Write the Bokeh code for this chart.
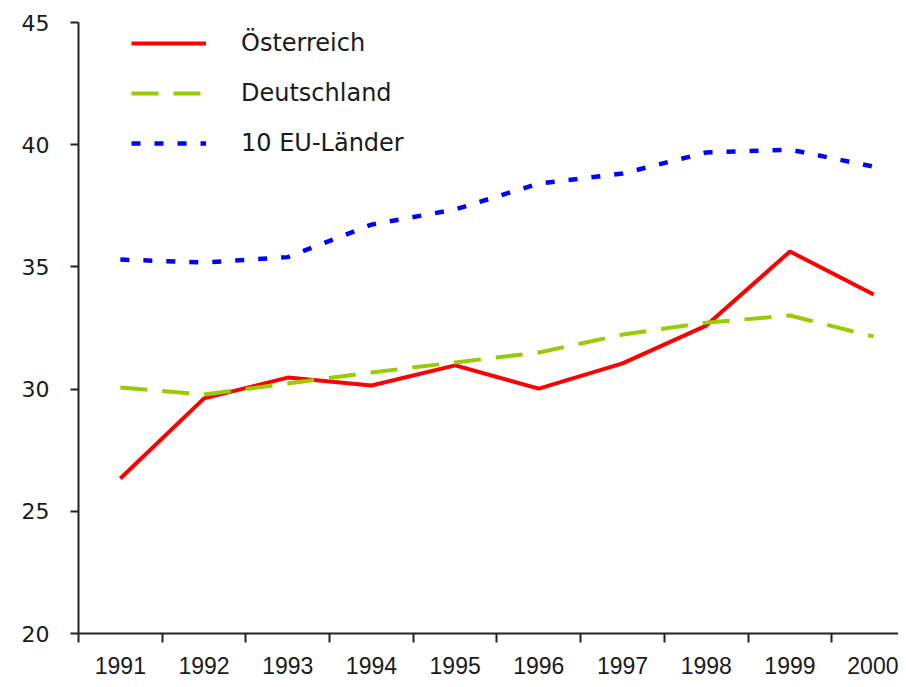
from bokeh.plotting import figure
from bokeh.models import Range1d, FixedTicker, Legend, LegendItem
from bokeh.embed import file_html
from bokeh.resources import INLINE

years = [1991, 1992, 1993, 1994, 1995, 1996, 1997, 1998, 1999, 2000]
oesterreich = [26.34, 29.62, 30.47, 30.15, 30.97, 30.02, 31.05, 32.6, 35.63, 33.87]
deutschland = [30.07, 29.78, 30.23, 30.68, 31.09, 31.5, 32.23, 32.72, 33.01, 32.15]
eu10 = [35.3, 35.18, 35.4, 36.73, 37.35, 38.41, 38.82, 39.68, 39.8, 39.1]
y_ticks = [20, 25, 30, 35, 40, 45]
names = ["Österreich", "Deutschland", "10 EU-Länder"]

p = figure(frame_width=820, frame_height=611, output_backend="svg",
           toolbar_location=None, x_range=Range1d(1990.5, 2000.297),
           y_range=Range1d(20, 45), min_border_left=78, min_border_top=22,
           min_border_right=0, min_border_bottom=46)
p.outline_line_color = None
p.xgrid.visible = False
p.ygrid.visible = False
p.background_fill_color = "white"
p.border_fill_color = "white"

r1 = p.line(years, oesterreich, line_color="#FF0000", line_width=4)
r2 = p.line(years, deutschland, line_color="#99CC00", line_width=4, line_dash="27 15")
r3 = p.line(years, eu10, line_color="#0000FF", line_width=4.5, line_dash="9 14")

# y axis
ya = p.yaxis[0]
ya.ticker = FixedTicker(ticks=y_ticks)
ya.axis_line_width = 2
ya.axis_line_color = "#222222"
ya.major_tick_line_width = 2
ya.major_tick_line_color = "#222222"
ya.major_tick_out = 8
ya.major_tick_in = 0
ya.minor_tick_line_color = None
ya.major_label_standoff = 21
ya.major_label_text_font = "DejaVu Sans"
ya.major_label_text_font_size = "22px"
ya.major_label_text_color = "#1a1a1a"

# x axis: labels at year centres, tick marks at category boundaries
xa = p.xaxis[0]
xa.ticker = FixedTicker(ticks=years, minor_ticks=[yr - 0.5 for yr in years])
xa.major_label_overrides = {yr: str(yr) for yr in years}
xa.axis_line_width = 2
xa.axis_line_color = "#222222"
xa.major_tick_line_color = None
xa.major_tick_out = 0
xa.major_tick_in = 0
xa.minor_tick_line_color = "#222222"
xa.minor_tick_line_width = 2
xa.minor_tick_out = 9
xa.minor_tick_in = 0
xa.major_label_standoff = 14
xa.major_label_text_font = "Liberation Sans"
xa.major_label_text_font_size = "23px"
xa.major_label_text_color = "#1a1a1a"

legend = Legend(items=[LegendItem(label=names[0], renderers=[r1]),
                       LegendItem(label=names[1], renderers=[r2]),
                       LegendItem(label=names[2], renderers=[r3])],
                location=(53, 476), padding=0, margin=0, spacing=22,
                glyph_width=75, glyph_height=20, label_height=20,
                label_standoff=35, border_line_color=None,
                background_fill_alpha=0,
                label_text_font="DejaVu Sans", label_text_font_size="24px",
                label_text_color="#1a1a1a")
p.add_layout(legend)

open("out.html", "w").write(file_html(p, INLINE))
